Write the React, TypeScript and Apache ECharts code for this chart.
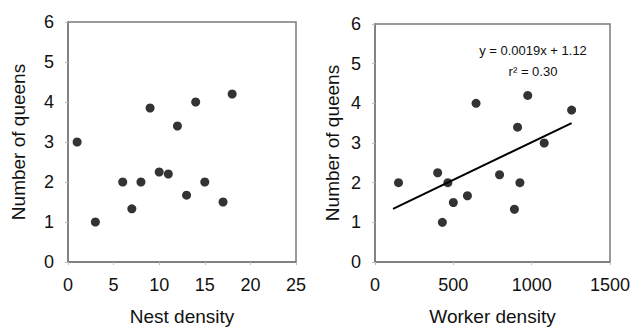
import React, { useEffect, useRef } from "react";
import * as echarts from "echarts";

const nestDensity = [1, 3, 6, 7, 8, 9, 10, 11, 12, 13, 14, 15, 17, 18];
const queensA = [3, 1, 2, 1.33, 2, 3.85, 2.25, 2.2, 3.4, 1.67, 4, 2, 1.5, 4.2];

const workerDensity = [150, 400, 465, 430, 500, 590, 645, 795, 890, 910, 925, 975, 1080, 1255];
const queensB = [2, 2.25, 2, 1, 1.5, 1.67, 4, 2.2, 1.33, 3.4, 2, 4.2, 3, 3.83];

const trendX = [115, 1255];
const trendY = [1.34, 3.5];

const equationLines = ["y = 0.0019x + 1.12", "r\u00B2 = 0.30"];

const FONT = "'Liberation Sans', Arial, Helvetica, sans-serif";
const TEXT = "#111111";
const AXIS = "#7a7a7a";

function axisCommon(name: string, isX: boolean, max: number, interval: number, gap: number) {
  return {
    type: "value",
    min: 0,
    max,
    interval,
    name,
    nameLocation: "middle",
    nameGap: gap,
    nameTextStyle: { fontFamily: FONT, fontSize: 19, color: TEXT },
    axisLine: { show: true, onZero: false, lineStyle: { color: AXIS, width: 1.5 } },
    axisTick: { show: true, length: 3, lineStyle: { color: "#bbbbbb", width: 1 } },
    axisLabel: {
      fontFamily: FONT,
      fontSize: 18,
      color: TEXT,
      margin: isX ? 14 : 14,
      formatter: (v: number) => String(v),
    },
    splitLine: { show: false },
  };
}

export default function App() {
  const ref = useRef<HTMLDivElement>(null);
  useEffect(() => {
    if (!ref.current) return;
    const chart = echarts.init(ref.current, undefined, { renderer: "svg" });
    const gridStyle = { show: true, borderColor: AXIS, borderWidth: 1.5, containLabel: false };
    chart.setOption({
      animation: false,
      backgroundColor: "#ffffff",
      grid: [
        { ...gridStyle, left: 68, width: 228, top: 22, height: 244 },
        { ...gridStyle, left: 375, width: 235, top: 24, height: 242 },
      ],
      xAxis: [
        { ...axisCommon("Nest density", true, 25, 5, 45), gridIndex: 0 },
        { ...axisCommon("Worker density", true, 1500, 500, 45), gridIndex: 1 },
      ],
      yAxis: [
        { ...axisCommon("Number of queens", false, 6, 1, 40), gridIndex: 0 },
        { ...axisCommon("Number of queens", false, 6, 1, 33), gridIndex: 1 },
      ],
      series: [
        {
          type: "scatter",
          xAxisIndex: 0,
          yAxisIndex: 0,
          symbolSize: 9,
          itemStyle: { color: "#000" },
          data: nestDensity.map((x, i) => [x, queensA[i]]),
        },
        {
          type: "line",
          xAxisIndex: 1,
          yAxisIndex: 1,
          showSymbol: false,
          symbol: "none",
          lineStyle: { color: "#000", width: 2 },
          data: trendX.map((x, i) => [x, trendY[i]]),
          z: 1,
        },
        {
          type: "scatter",
          xAxisIndex: 1,
          yAxisIndex: 1,
          symbolSize: 9,
          itemStyle: { color: "#000" },
          data: workerDensity.map((x, i) => [x, queensB[i]]),
          z: 3,
        },
      ],
      graphic: [
        {
          type: "text",
          x: 533,
          y: 50,
          style: {
            text: equationLines[0],
            fontFamily: FONT,
            fontSize: 13,
            fill: TEXT,
            align: "center",
            verticalAlign: "middle",
          },
        },
        {
          type: "text",
          x: 533,
          y: 71,
          style: {
            text: equationLines[1],
            fontFamily: FONT,
            fontSize: 13,
            fill: TEXT,
            align: "center",
            verticalAlign: "middle",
          },
        },
      ],
    });
    return () => chart.dispose();
  }, []);
  return <div ref={ref} style={{ width: 634, height: 331, position: "absolute", left: 0, top: 0 }} />;
}
